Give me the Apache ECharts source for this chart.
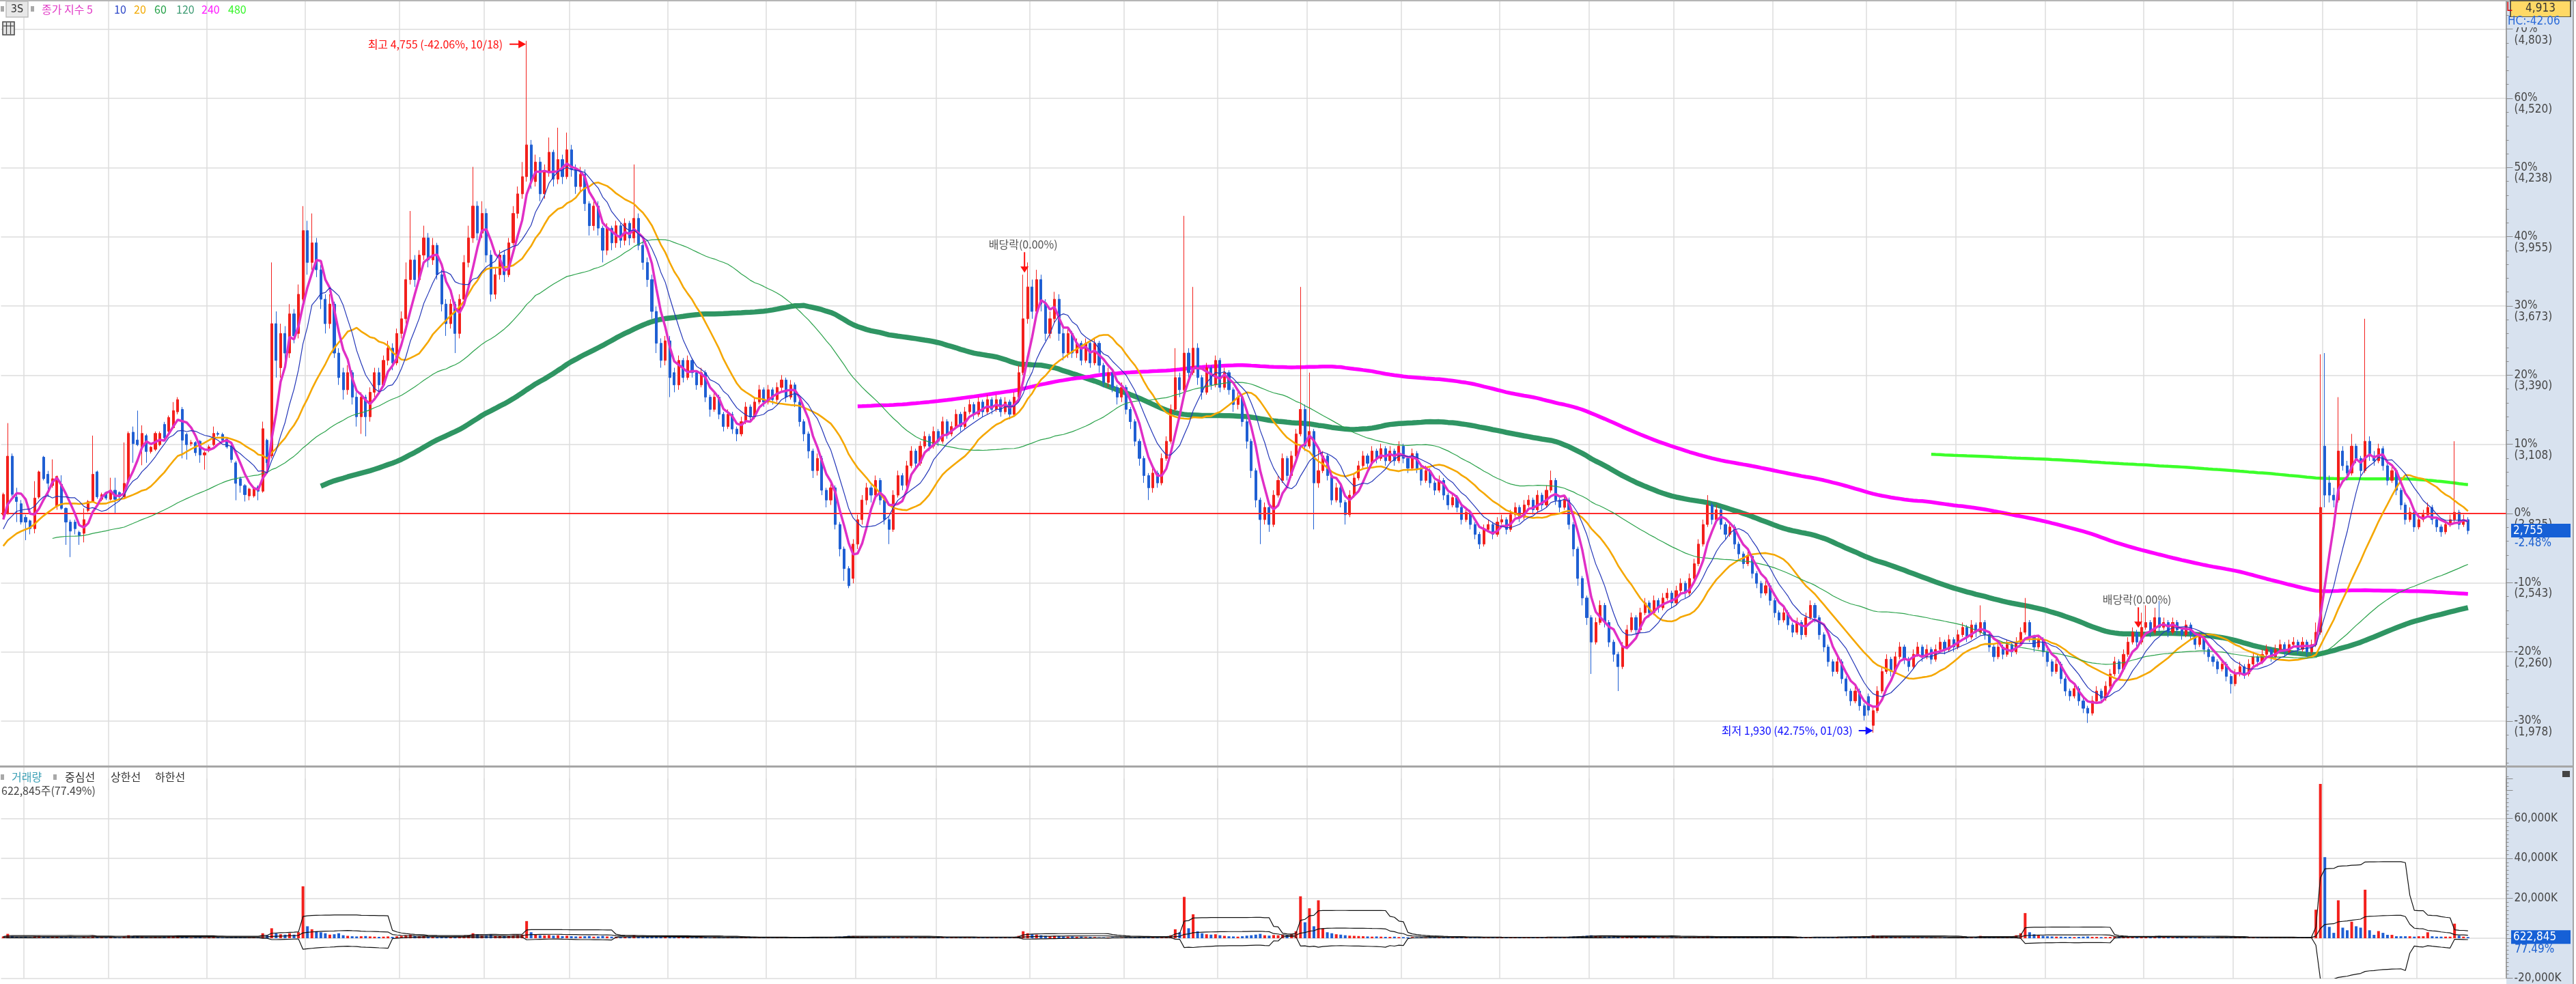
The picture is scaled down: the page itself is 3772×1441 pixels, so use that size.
<!DOCTYPE html>
<html><head><meta charset="utf-8">
<script src="https://cdn.jsdelivr.net/npm/echarts@6/dist/echarts.min.js"></script>
<style>html,body{margin:0;padding:0;background:#fff}#c{width:3772px;height:1441px}</style>
</head><body><div id="c"></div>
<script>
// ---------- DATA ----------
const basePrice = 2825;            // 0% reference price
const topValueText = '4,913';
const highDate = '10/18', lowDate = '01/03';
const exDivIdx = [228, 477];
const priorCloses = [2700,2720,2690,2710,2740,2700,2680,2660,2690,2670,2700,2680,2650,2670,2700,2720,2690,2660,2640,2670,
2690,2660,2640,2620,2650,2680,2660,2640,2620,2600,2620,2590,2610,2640,2620,2600,2630,2650,2670,2700,2720,2690,2740,2760,2750,2780,2770,2800];
const priorVolumes = [600,500,700,800,600,500,400,600,700,500,600,800,700,500,600,900,700,600,800];
// [open, close, low, high]
const candles = [
[2819,2903,2810,2910],[2828,3059,2820,3194],[3059,2903,2895,3070],[2892,2874,2790,2930],[2865,2790,2780,2880],[2809,2790,2716,2820],[2795,2763,2740,2800],[2763,2888,2744,2957],[2892,2995,2885,3000],[3055,2967,2960,3060],
[2985,2948,2893,2999],[2939,2967,2930,3046],[2855,2976,2840,2980],[2944,2846,2840,2981],[2846,2790,2697,2850],[2790,2753,2647,2800],[2790,2763,2740,2800],[2748,2735,2697,2755],[2744,2800,2707,2846],[2837,2874,2830,2880],
[2874,2985,2870,3143],[2995,2893,2885,3000],[2883,2902,2875,2910],[2911,2888,2880,2915],[2883,2920,2878,2971],[2920,2883,2828,2971],[2911,2893,2885,2915],[2893,2948,2890,3115],[2958,3152,2950,3160],[3157,3110,3032,3180],
[3125,3106,3100,3245],[3096,3152,3022,3185],[3143,3078,3032,3150],[3078,3096,3070,3100],[3087,3152,3080,3160],[3106,3152,3100,3160],[3189,3134,3125,3199],[3161,3217,3155,3225],[3175,3245,3170,3280],[3240,3290,3230,3300],
[3250,3124,3050,3260],[3148,3106,3045,3155],[3110,3115,3100,3125],[3115,3073,3060,3120],[3120,3064,3032,3125],[3064,3073,3004,3080],[3083,3097,3075,3105],[3106,3152,3100,3180],[3152,3148,3140,3160],[3148,3124,3115,3155],
[3129,3097,3090,3135],[3101,3045,3032,3110],[3032,2948,2879,3040],[2967,2939,2910,2975],[2939,2902,2874,2945],[2897,2925,2879,2930],[2897,2930,2890,2935],[2934,2916,2879,2940],[2916,3171,2910,3200],[3124,3032,2990,3130],
[3060,3600,3050,3850],[3600,3450,3380,3650],[3420,3560,3380,3600],[3560,3480,3440,3590],[3480,3640,3460,3680],[3640,3550,3520,3660],[3560,3720,3540,3760],[3700,3980,3690,4080],[3980,3850,3800,4020],[3850,3930,3820,4050],
[3930,3820,3790,3950],[3820,3700,3660,3840],[3700,3600,3560,3720],[3600,3680,3580,3720],[3680,3480,3460,3690],[3480,3380,3350,3500],[3400,3330,3290,3420],[3330,3400,3310,3430],[3400,3300,3270,3410],[3300,3220,3180,3320],
[3220,3300,3150,3320],[3300,3220,3140,3310],[3220,3320,3200,3340],[3320,3400,3300,3420],[3400,3350,3320,3420],[3350,3450,3340,3470],[3450,3500,3430,3530],[3500,3440,3410,3520],[3440,3560,3430,3580],[3560,3620,3540,3650],
[3620,3780,3600,3850],[3780,3860,3760,4060],[3860,3780,3750,3880],[3780,3880,3770,3900],[3880,3950,3860,4000],[3950,3860,3830,3970],[3860,3920,3840,3950],[3920,3800,3780,3930],[3800,3680,3650,3820],[3680,3600,3550,3700],
[3600,3680,3580,3700],[3680,3560,3480,3690],[3560,3700,3540,3720],[3700,3850,3690,3880],[3850,3950,3830,4000],[3950,4080,3930,4240],[4080,3970,3940,4100],[3970,4050,3950,4100],[4050,3880,3850,4070],[3880,3720,3690,3900],
[3720,3800,3700,3830],[3800,3880,3780,3900],[3880,3800,3770,3900],[3800,3930,3790,3950],[3930,4050,3920,4080],[4050,4130,4030,4160],[4130,4200,4110,4260],[4200,4330,4180,4755],[4330,4180,4150,4350],[4180,4260,4160,4290],
[4260,4130,4100,4280],[4130,4220,4110,4250],[4220,4300,4200,4360],[4300,4190,4160,4310],[4190,4270,4170,4400],[4270,4200,4170,4290],[4200,4310,4190,4380],[4310,4230,4200,4330],[4230,4160,4130,4250],[4160,4210,4140,4240],
[4210,4090,4060,4230],[4090,4000,3960,4100],[4000,4080,3980,4100],[4080,3990,3960,4100],[3990,3900,3850,4000],[3900,3990,3880,4010],[3990,3930,3900,4000],[3930,4000,3910,4020],[4000,3940,3910,4010],[3940,4010,3920,4030],
[4010,3950,3920,4020],[3950,4030,3930,4250],[4030,3920,3900,4050],[3920,3850,3820,3940],[3850,3780,3750,3870],[3780,3650,3620,3800],[3650,3520,3480,3670],[3520,3450,3420,3540],[3450,3530,3430,3550],[3530,3380,3300,3550],
[3400,3350,3320,3420],[3350,3450,3330,3470],[3450,3380,3360,3460],[3380,3450,3370,3470],[3450,3400,3380,3460],[3400,3350,3330,3410],[3350,3400,3340,3420],[3400,3300,3280,3410],[3300,3250,3220,3310],[3250,3300,3240,3320],
[3300,3230,3210,3310],[3230,3180,3160,3240],[3180,3230,3170,3250],[3230,3170,3150,3240],[3170,3150,3120,3180],[3150,3200,3140,3220],[3200,3260,3190,3280],[3260,3220,3200,3270],[3220,3280,3210,3300],[3280,3330,3270,3350],
[3330,3280,3260,3340],[3280,3330,3270,3350],[3330,3290,3270,3340],[3290,3340,3280,3360],[3340,3370,3320,3390],[3370,3300,3280,3380],[3300,3350,3290,3370],[3350,3280,3260,3360],[3280,3200,3180,3290],[3200,3150,3120,3210],
[3150,3080,3050,3160],[3080,3000,2970,3090],[3000,3050,2980,3070],[3050,2920,2900,3060],[2920,2880,2850,2930],[2880,2930,2860,2950],[2930,2780,2760,2940],[2780,2680,2650,2790],[2680,2600,2550,2690],[2600,2530,2520,2610],
[2560,2700,2540,2720],[2700,2800,2680,2820],[2800,2880,2780,2900],[2880,2930,2860,2950],[2930,2900,2870,2940],[2900,2960,2890,2980],[2960,2880,2860,2970],[2880,2800,2780,2890],[2800,2760,2700,2810],[2760,2900,2750,2920],
[2900,2980,2890,3000],[2980,2940,2920,2990],[2940,3020,2930,3040],[3020,3080,3010,3100],[3080,3030,3010,3090],[3030,3100,3020,3120],[3100,3140,3090,3160],[3140,3100,3080,3150],[3100,3160,3090,3180],[3160,3120,3100,3170],
[3120,3200,3110,3220],[3200,3150,3130,3210],[3150,3180,3140,3200],[3180,3230,3170,3250],[3230,3180,3160,3240],[3180,3240,3170,3260],[3240,3270,3230,3290],[3270,3230,3210,3280],[3230,3280,3220,3300],[3280,3240,3220,3290],
[3240,3290,3230,3310],[3290,3250,3230,3300],[3250,3290,3240,3310],[3290,3240,3220,3300],[3240,3280,3230,3300],[3280,3230,3210,3290],[3230,3300,3220,3320],[3300,3400,3290,3430],[3400,3620,3390,3800],[3620,3750,3600,3850],
[3750,3650,3620,3780],[3650,3780,3630,3820],[3780,3680,3650,3800],[3680,3560,3530,3700],[3560,3620,3540,3650],[3620,3700,3600,3730],[3700,3560,3530,3720],[3560,3480,3450,3580],[3480,3560,3460,3580],[3560,3480,3460,3570],
[3480,3520,3460,3540],[3520,3450,3430,3530],[3450,3520,3440,3540],[3520,3440,3420,3530],[3440,3520,3430,3540],[3520,3430,3400,3530],[3430,3360,3340,3440],[3360,3400,3340,3420],[3400,3340,3320,3410],[3340,3300,3270,3350],
[3300,3340,3280,3360],[3340,3250,3230,3350],[3250,3200,3170,3260],[3200,3120,3100,3210],[3120,3050,3020,3130],[3050,2980,2950,3060],[2980,2930,2880,2990],[2930,2990,2910,3010],[2990,2950,2930,3000],[2950,3050,2940,3070],
[3050,3120,3040,3140],[3120,3250,3110,3270],[3250,3380,3240,3500],[3380,3330,3300,3400],[3330,3480,3320,4040],[3480,3400,3370,3500],[3400,3500,3390,3750],[3500,3380,3350,3520],[3380,3320,3290,3390],[3320,3420,3310,3440],
[3420,3350,3330,3430],[3350,3450,3340,3470],[3450,3340,3320,3460],[3340,3400,3330,3420],[3400,3330,3310,3410],[3330,3270,3240,3340],[3270,3300,3250,3320],[3300,3200,3180,3310],[3200,3120,3090,3210],[3120,3000,2970,3130],
[3000,2880,2850,3010],[2880,2800,2700,2890],[2800,2850,2780,2870],[2850,2780,2750,2860],[2780,2900,2770,2920],[2900,2960,2890,2980],[2960,3050,2950,3070],[3050,2980,2960,3060],[2980,3060,2970,3080],[3060,3150,3050,3170],
[3150,3250,3140,3750],[3250,3100,3080,3270],[3100,3160,3090,3400],[3160,2950,2760,3170],[2950,3000,2930,3100],[3000,3060,2990,3080],[3060,2980,2960,3070],[2980,2880,2860,2990],[2880,2930,2870,2950],[2930,2870,2850,2940],
[2870,2820,2780,2880],[2820,2900,2810,2920],[2900,2970,2890,2990],[2970,3020,2960,3040],[3020,3060,3010,3080],[3060,3030,3010,3070],[3030,3080,3020,3100],[3080,3050,3030,3090],[3050,3090,3040,3110],[3090,3040,3020,3100],
[3040,3080,3030,3100],[3080,3040,3020,3090],[3040,3100,3030,3120],[3100,3050,3030,3110],[3050,3010,2990,3060],[3010,3070,3000,3090],[3070,3010,2990,3080],[3010,2960,2940,3020],[2960,3000,2950,3020],[3000,2950,2930,3010],
[2950,2920,2900,2960],[2920,2960,2910,2980],[2960,2900,2880,2970],[2900,2860,2840,2910],[2860,2890,2850,2910],[2890,2850,2830,2900],[2850,2800,2780,2860],[2800,2830,2790,2850],[2830,2780,2760,2840],[2780,2740,2720,2790],
[2740,2700,2680,2750],[2700,2760,2690,2780],[2760,2780,2750,2800],[2780,2740,2720,2790],[2740,2790,2730,2810],[2790,2800,2780,2820],[2800,2760,2740,2810],[2760,2820,2750,2840],[2820,2850,2810,2870],[2850,2810,2790,2860],
[2810,2860,2800,2880],[2860,2880,2850,2900],[2880,2840,2820,2890],[2840,2900,2830,2920],[2900,2860,2840,2910],[2860,2920,2850,2940],[2920,2960,2910,3000],[2960,2880,2860,2970],[2880,2850,2830,2890],[2850,2880,2840,2900],
[2880,2780,2760,2890],[2780,2680,2650,2790],[2680,2560,2530,2690],[2560,2480,2450,2570],[2480,2400,2370,2490],[2400,2300,2170,2410],[2300,2380,2290,2400],[2380,2450,2370,2470],[2450,2380,2360,2460],[2380,2300,2280,2390],
[2300,2250,2220,2310],[2250,2200,2100,2260],[2200,2280,2190,2300],[2280,2350,2270,2370],[2350,2400,2340,2420],[2400,2350,2330,2410],[2350,2420,2340,2440],[2420,2460,2410,2480],[2460,2420,2400,2470],[2420,2470,2410,2490],
[2470,2440,2420,2480],[2440,2480,2430,2500],[2480,2500,2470,2520],[2500,2460,2440,2510],[2460,2510,2450,2530],[2510,2540,2500,2560],[2540,2500,2480,2550],[2500,2560,2490,2580],[2560,2620,2550,2640],[2620,2700,2610,2720],
[2700,2780,2690,2800],[2780,2860,2770,2900],[2860,2800,2780,2870],[2800,2840,2790,2860],[2840,2780,2760,2850],[2780,2740,2720,2790],[2740,2770,2730,2790],[2770,2700,2680,2780],[2700,2660,2640,2710],[2660,2620,2600,2670],
[2620,2650,2610,2670],[2650,2580,2560,2660],[2580,2540,2520,2590],[2540,2500,2480,2550],[2500,2530,2490,2550],[2530,2470,2450,2540],[2470,2420,2400,2480],[2420,2390,2370,2430],[2390,2420,2380,2440],[2420,2370,2350,2430],
[2370,2340,2320,2380],[2340,2380,2330,2400],[2380,2330,2310,2390],[2330,2400,2320,2420],[2400,2450,2390,2470],[2450,2400,2380,2460],[2400,2330,2310,2410],[2330,2280,2260,2340],[2280,2220,2200,2290],[2220,2180,2160,2230],
[2180,2220,2170,2240],[2220,2150,2130,2230],[2150,2100,2080,2160],[2100,2060,2040,2110],[2060,2100,2050,2120],[2100,2040,2020,2110],[2040,2000,1980,2050],[2078,2022,2000,2090],[1960,2020,1930,2040],[2020,2100,2010,2120],
[2100,2180,2090,2200],[2180,2230,2170,2250],[2230,2180,2160,2240],[2180,2240,2170,2260],[2240,2280,2230,2300],[2280,2230,2210,2290],[2230,2200,2180,2240],[2200,2250,2190,2270],[2250,2280,2240,2300],[2280,2240,2220,2290],
[2240,2270,2230,2290],[2270,2230,2210,2280],[2230,2270,2220,2290],[2270,2300,2260,2320],[2300,2270,2250,2310],[2270,2310,2260,2330],[2310,2280,2260,2320],[2280,2330,2270,2350],[2330,2360,2320,2380],[2360,2320,2300,2370],
[2320,2370,2310,2390],[2370,2340,2320,2380],[2340,2380,2330,2450],[2380,2330,2310,2390],[2330,2280,2260,2340],[2280,2240,2220,2290],[2240,2280,2230,2300],[2280,2250,2230,2290],[2250,2290,2240,2310],[2290,2260,2240,2300],
[2260,2300,2250,2320],[2300,2340,2290,2360],[2340,2380,2330,2480],[2380,2320,2300,2390],[2320,2280,2260,2330],[2280,2310,2270,2330],[2310,2260,2240,2320],[2260,2220,2200,2270],[2220,2180,2160,2230],[2180,2210,2170,2230],
[2210,2150,2130,2220],[2150,2100,2080,2160],[2100,2080,2060,2110],[2080,2110,2070,2130],[2110,2060,2040,2120],[2060,2030,2010,2070],[2030,2010,1970,2040],[2010,2060,2000,2080],[2060,2100,2050,2120],[2100,2070,2050,2110],
[2070,2120,2060,2140],[2120,2170,2110,2190],[2170,2220,2160,2240],[2220,2190,2170,2230],[2190,2250,2180,2270],[2250,2300,2240,2320],[2300,2340,2290,2360],[2340,2300,2280,2350],[2300,2360,2290,2420],[2360,2380,2350,2450],
[2380,2340,2320,2390],[2340,2400,2330,2440],[2400,2360,2340,2468],[2360,2380,2350,2400],[2380,2340,2320,2390],[2340,2380,2330,2400],[2380,2350,2330,2390],[2350,2330,2310,2360],[2330,2370,2320,2390],[2370,2330,2310,2380],
[2330,2290,2270,2340],[2290,2320,2280,2340],[2320,2270,2250,2330],[2270,2240,2220,2280],[2240,2220,2200,2250],[2220,2190,2170,2230],[2190,2210,2180,2230],[2210,2160,2140,2220],[2160,2130,2090,2170],[2130,2170,2120,2190],
[2170,2200,2160,2220],[2200,2170,2150,2210],[2170,2210,2160,2230],[2210,2240,2200,2260],[2240,2220,2200,2250],[2220,2250,2210,2270],[2250,2270,2240,2290],[2270,2240,2220,2280],[2240,2270,2230,2290],[2270,2290,2260,2310],
[2290,2260,2240,2300],[2260,2290,2250,2310],[2290,2300,2280,2320],[2300,2270,2250,2310],[2270,2300,2260,2320],[2300,2260,2240,2310],[2260,2290,2250,2310],[2290,2340,2280,2380],[2340,2850,2330,3475],[3100,2900,2850,3480],
[2950,2900,2870,2980],[2900,2880,2850,2930],[2880,3080,2870,3300],[3080,3020,3000,3100],[3020,2990,2960,3040],[2990,3100,2980,3150],[3100,3050,3030,3110],[3050,3000,2980,3060],[3000,3120,2990,3620],[3120,3060,3040,3140],
[3060,3040,3020,3080],[3040,3090,3030,3110],[3090,3020,3000,3100],[3020,2960,2940,3030],[2960,3000,2950,3020],[3000,2920,2900,3010],[2920,2860,2840,2930],[2860,2800,2780,2870],[2800,2830,2790,2850],[2830,2770,2750,2840],
[2770,2800,2760,2820],[2800,2820,2790,2840],[2820,2850,2810,2870],[2850,2800,2780,2860],[2800,2770,2750,2810],[2770,2750,2730,2780],[2750,2780,2740,2800],[2780,2800,2770,2820],[2800,2830,2790,3120],[2830,2780,2760,2840],
[2780,2800,2770,2820],[2800,2755,2740,2810]
];
// volume, thousands of shares
const volumes = [
900,2200,1100,700,600,800,500,900,1200,800, 600,700,800,700,600,900,500,400,700,600,
1200,800,500,400,600,500,400,900,1500,1000, 1100,800,600,500,700,600,800,900,1100,1200,
1000,700,400,500,600,400,500,700,500,400, 400,600,800,600,500,400,500,400,2500,1500,
5000,2500,2000,1800,2500,1800,3000,26000,6000,4500, 3500,3000,2500,1800,2000,2500,1500,1200,1000,900,
1000,1100,900,800,700,800,900,700,1000,1200, 1500,1800,1000,900,1100,900,800,700,900,800,
700,800,900,1200,1400,2500,1800,1500,1600,1800, 1200,1100,1000,1300,1500,1600,1800,8600,3000,1800,
1500,1400,1600,1300,1500,1100,1300,1000,900,900, 1000,1100,800,900,1200,900,800,700,600,700,
800,1500,1000,900,900,1200,1100,900,700,900, 700,600,500,500,400,500,600,500,400,500,
500,400,400,500,400,300,400,400,300,400, 400,300,300,400,500,400,300,300,400,500,
500,600,500,600,500,500,700,800,1000,1200, 1100,900,800,700,500,500,500,600,700,600,
500,400,500,600,400,400,500,400,400,500, 500,400,400,500,400,500,600,400,400,500,
500,400,400,500,400,400,600,1200,3500,2500, 2000,1800,1500,1200,1000,1200,1100,900,800,900,
700,800,600,700,600,500,500,400,500,400, 400,500,500,600,700,800,900,600,500,700,
900,1500,4500,3000,20700,5000,12000,3500,2500,2000, 1800,2000,1500,1200,1000,900,800,1000,1300,1500,
1800,2200,1500,1300,1600,1500,1800,1400,2000,3500, 21000,8000,15000,6000,19000,5000,3000,2500,2000,1800,
1500,1300,1200,1100,1000,900,800,900,800,700, 700,800,600,600,500,600,500,500,400,500,
500,400,400,500,400,400,500,400,400,500, 500,400,500,400,400,500,400,400,500,400,
400,400,500,400,500,600,700,600,500,500, 700,900,1000,1100,1300,1500,1100,900,800,900,
1000,1200,900,800,700,600,600,500,500,500, 400,500,400,500,400,500,400,500,600,700,
900,1100,800,600,500,500,400,500,400,400, 400,500,400,500,400,400,500,400,400,500,
400,400,500,400,500,600,500,500,600,700, 600,700,800,700,600,800,900,1000,1500,1200,
1000,800,700,600,600,500,500,600,500,400, 400,500,400,400,500,400,400,500,600,500,
500,600,1200,800,600,500,500,600,500,700, 1500,2500,12600,3000,2000,1500,1200,1000,900,800,
800,700,700,600,700,800,900,700,700,600, 600,700,800,600,700,800,900,800,1000,900,
800,1000,1200,700,600,500,500,600,500,500, 400,500,400,500,500,400,400,500,600,500,
400,400,300,400,300,300,400,300,300,400, 300,300,400,300,300,400,300,14300,77300,40600,
5700,2700,19000,5300,4000,8300,6000,5300,24300,4000, 1700,3600,2700,1700,1700,1000,1000,1000,1000,800,
1000,1000,3000,1000,800,800,800,800,7300,1300, 803.8,622.845
];
// first candle of each month (vertical grid lines)
const monthStarts = [5,24,46,68,89,108,127,149,171,191,209,230,251,272,292,313,335,355,374,396,417,437,457,479,499,519,540];

// ---------- STYLE ----------
const maStyles = [
  {p:5,   color:'#e02fc6', w:3.5, z:6},
  {p:10,  color:'#2336b8', w:1.2, z:6},
  {p:20,  color:'#f5a700', w:2.6, z:5},
  {p:60,  color:'#2aa24a', w:1.2, z:5},
  {p:120, color:'#2f9563', w:7.5, z:1},
  {p:240, color:'#ff00ff', w:5.5, z:1},
  {p:480, color:'#3cff2a', w:4.5, z:1}
];
const UP = '#f3201c', DOWN = '#1f5fd3';
const FONT = "'DejaVu Sans Condensed','Noto Sans CJK KR',sans-serif";
const KFONT = "'Noto Sans CJK KR','DejaVu Sans',sans-serif";
const fmt = v => Math.round(v).toLocaleString('en-US');

// main panel geometry: 10% step = 101.33 px, -40% level at y = 1157.3, panel top at y = 0
const MAIN_H = 1157.3, STEP_PX = 101.33;
const yMin = basePrice * 0.6, yStep = basePrice * 0.1;
const yMax = yMin + MAIN_H / STEP_PX * yStep;

// ---------- DERIVED ----------
const N = candles.length;
const cats = Array.from({length: N + 8}, (_, i) => String(i));
const monthSet = new Set(monthStarts);
const allCloses = priorCloses.concat(candles.map(c => c[1]));
function movingAvg(p) {
  const out = [];
  for (let v = 0; v < N; v++) {
    const i = v + priorCloses.length;
    if (i < p - 1) { out.push('-'); continue; }
    let s = 0; for (let k = i - p + 1; k <= i; k++) s += allCloses[k];
    out.push(+(s / p).toFixed(2));
  }
  return out;
}
const allVol = priorVolumes.concat(volumes);
const bbMid = [], bbUp = [], bbLo = [];
for (let v = 0; v < N; v++) {
  const i = v + priorVolumes.length;
  let s = 0; for (let k = i - 19; k <= i; k++) s += allVol[k];
  const m = s / 20;
  let q = 0; for (let k = i - 19; k <= i; k++) q += (allVol[k] - m) ** 2;
  const sd = Math.sqrt(q / 20);
  bbMid.push(+m.toFixed(2)); bbUp.push(+(m + 1.5 * sd).toFixed(2)); bbLo.push(+(m - 1.5 * sd).toFixed(2));
}

const chart = echarts.init(document.getElementById('c'), null, {width:3772, height:1441});
const splitX = {show:true, interval:(i) => monthSet.has(i), lineStyle:{color:'#dcdcdc', width:1.5}};
const series = [{
  type:'candlestick', xAxisIndex:0, yAxisIndex:0, data:candles, barWidth:3.6, z:3,
  itemStyle:{color:UP, color0:DOWN, borderColor:UP, borderColor0:DOWN, borderWidth:1},
  markLine:{silent:true, symbol:['none','none'], label:{show:false}, animation:false,
    lineStyle:{color:'#ff2a2a', width:2, type:'solid'}, data:[{yAxis:basePrice}]}
}];
maStyles.forEach(s => series.push({type:'line', xAxisIndex:0, yAxisIndex:0, data:movingAvg(s.p), showSymbol:false,
  lineStyle:{color:s.color, width:s.w}, z:s.z, silent:true}));
series.push({type:'bar', xAxisIndex:1, yAxisIndex:2, barWidth:4, z:3,
  data:volumes.map((v, i) => ({value:v, itemStyle:{color: candles[i][1] >= candles[i][0] ? UP : DOWN}}))});
[bbMid, bbUp, bbLo].forEach(d => series.push({type:'line', xAxisIndex:1, yAxisIndex:2, data:d, showSymbol:false,
  lineStyle:{color:'#111', width:1.2}, z:4, silent:true}));

const stepOf = v => (v / basePrice - 1) * 10;
const isMajor = v => { const s = stepOf(v); return Math.abs(s - Math.round(s)) < 0.01 && Math.round(s) > -4; };
const pctLabel = v => isMajor(v) ? Math.round(stepOf(v)) * 10 + '%' : '';
const prcLabel = v => isMajor(v) ? '(' + fmt(v) + ')' : '';
const axisCommon = {position:'right', min:yMin, max:yMax, interval:yStep, gridIndex:0};

chart.setOption({
  animation:false, backgroundColor:'#fff',
  grid:[{left:1.5, width:3668, top:0, height:MAIN_H}, {left:1.5, width:3668, top:1140, height:300}],
  xAxis:[
    {type:'category', gridIndex:0, data:cats, boundaryGap:true, axisLine:{show:false}, axisTick:{show:false}, axisLabel:{show:false}, splitLine:splitX},
    {type:'category', gridIndex:1, data:cats, boundaryGap:true, axisLine:{show:false}, axisTick:{show:false}, axisLabel:{show:false}, splitLine:splitX}
  ],
  yAxis:[
    Object.assign({type:'value', axisLine:{show:true, lineStyle:{color:'#8c8c8c', width:1.5}},
      axisTick:{show:true, length:10, lineStyle:{color:'#8c8c8c'}},
      minorTick:{show:true, splitNumber:5, length:4, lineStyle:{color:'#8c8c8c'}},
      splitLine:{show:true, showMinLine:false, showMaxLine:false, lineStyle:{color:'#dcdcdc', width:1.5}},
      axisLabel:{margin:12, color:'#474747', fontSize:17, fontFamily:FONT, formatter:pctLabel, showMaxLabel:false}}, axisCommon),
    Object.assign({type:'value', axisLine:{show:false}, axisTick:{show:false}, splitLine:{show:false},
      axisLabel:{margin:12, color:'#474747', fontSize:17, fontFamily:FONT, verticalAlign:'top', padding:[8,0,0,0], formatter:prcLabel, showMaxLabel:false}}, axisCommon),
    {type:'value', gridIndex:1, position:'right', min:-20000, max:80000, interval:20000,
      axisLine:{show:true, lineStyle:{color:'#8c8c8c', width:1.5}},
      axisTick:{show:true, length:10, lineStyle:{color:'#8c8c8c'}},
      minorTick:{show:true, splitNumber:10, length:4, lineStyle:{color:'#8c8c8c'}},
      splitLine:{show:true, showMaxLine:false, lineStyle:{color:'#dcdcdc', width:1.5}},
      axisLabel:{margin:12, color:'#474747', fontSize:17, fontFamily:FONT,
        formatter:v => (v === 0 || v >= 80000) ? '' : fmt(v) + 'K'}}
  ],
  series
});

// ---------- OVERLAYS ----------
const P = (x, y) => chart.convertToPixel({xAxisIndex:0, yAxisIndex:0}, [x, y]);
const VY = v => chart.convertToPixel({yAxisIndex:2}, v);
const G = [];
const txt = (x, y, text, fill, size, align, font, z) => G.push({type:'text', x, y, z:z || 100, silent:true,
  style:{text, fill, font:(size || 16) + 'px ' + (font || FONT), align:align || 'left', verticalAlign:'middle'}});
const rect = (x, y, w, h, fill, stroke, z) => G.push({type:'rect', silent:true, z:z === undefined ? 90 : z,
  shape:{x, y, width:w, height:h}, style:{fill, stroke:stroke || null, lineWidth:stroke ? 1.5 : 0}});
const line = (x1, y1, x2, y2, stroke, w, z) => G.push({type:'line', silent:true, z:z || 95, shape:{x1, y1, x2, y2}, style:{stroke, lineWidth:w || 1}});
const tri = (pts, fill) => G.push({type:'polygon', silent:true, z:96, shape:{points:pts}, style:{fill}});

// axis panel background and frame
rect(3670, 0, 98, 1441, '#d8e2ef', null, -10);
line(3768, 0, 3768, 1441, '#8c8c8c', 1.5, 60);
rect(0, 0, 3772, 2, '#b5b5b5', null, 60);
rect(0, 1121, 3768, 3, '#a6a6a6', null, 60);

// top-left legend
rect(1, 9, 5, 8, '#a8a8a8', null);
rect(9, 2, 32, 23, '#e8e8e8', '#bdbdbd');
txt(25, 14, '3S', '#333', 16, 'center');
rect(45, 9, 5, 8, '#a8a8a8', null);
const legendItems = [['종가 지수 5', 61, '#e13ac6'], ['10', 167, '#2a45c8'], ['20', 196, '#f2a900'], ['60', 226, '#22a046'],
  ['120', 258, '#3d9b73'], ['240', 295, '#ff1aff'], ['480', 334, '#36f52a']];
legendItems.forEach(([t, x, c]) => txt(x, 14, t, c, 16, 'left', KFONT));
rect(4, 32, 17, 19, '#e4e4e4', '#444');
line(9.5, 33, 9.5, 50, '#444', 1.2); line(15.5, 33, 15.5, 50, '#444', 1.2); line(5, 38, 20, 38, '#444', 1.2);

// volume legend
rect(1, 1134, 5, 8, '#a8a8a8', null);
txt(17, 1138, '거래량', '#3a9fb5', 16, 'left', KFONT);
rect(78, 1134, 5, 8, '#a8a8a8', null);
txt(95, 1138, '중심선', '#333', 16, 'left', KFONT);
txt(162, 1138, '상한선', '#333', 16, 'left', KFONT);
txt(227, 1138, '하한선', '#333', 16, 'left', KFONT);
const lastVol = volumes[N - 1], prevVol = volumes[N - 2];
const volPct = (lastVol / prevVol * 100).toFixed(2);
txt(2, 1158, fmt(lastVol * 1000) + '주(' + volPct + '%)', '#444', 16, 'left', KFONT);

// top-right boxes
txt(3670, 12, 'L', '#e00000', 17);
rect(3676, 1, 88, 24, '#ffd966', '#333');
txt(3720, 13, topValueText, '#333', 17, 'center');
const lastClose = candles[N - 1][1];
const hiIdx = candles.reduce((b, c, i) => c[3] > candles[b][3] ? i : b, 0);
const loIdx = candles.reduce((b, c, i) => c[2] < candles[b][2] ? i : b, 0);
const hi = candles[hiIdx][3], lo = candles[loIdx][2];
rect(3671, 25, 96, 15, '#d8e2ef', null);
txt(3672, 32, 'HC:' + ((lastClose / hi - 1) * 100).toFixed(2), '#2a6ad8', 17);

// last price box
const ly = P(0, lastClose)[1];
rect(3677, ly - 10, 87, 20, '#1660d6', null);
txt(3680, ly, fmt(lastClose), '#fff', 17);
txt(3682, ly + 18, ((lastClose / basePrice - 1) * 100).toFixed(2) + '%', '#1a5fd0', 17);
// last volume box
const vy = VY(lastVol);
rect(3677, vy - 10, 87, 20, '#1660d6', null);
txt(3680, vy, fmt(lastVol * 1000), '#fff', 17);
txt(3682, vy + 18, volPct + '%', '#1a5fd0', 17);
rect(3752, 1129, 11, 9, '#444', null);

// high / low annotations
const [hx, hyRaw] = P(hiIdx, hi); const hy = hyRaw + 5;
txt(hx - 35, hy, '최고 ' + fmt(hi) + ' (' + ((lastClose / hi - 1) * 100).toFixed(2) + '%, ' + highDate + ')', '#ff1010', 16, 'right', KFONT);
line(hx - 25, hy, hx - 11, hy, '#ff1010', 2);
tri([[hx - 12, hy - 6], [hx - 1, hy], [hx - 12, hy + 6]], '#ff1010');
const [lx, lyRaw] = P(loIdx, lo); const lyy = lyRaw - 3;
txt(lx - 30, lyy, '최저 ' + fmt(lo) + ' (' + ((lastClose / lo - 1) * 100).toFixed(2) + '%, ' + lowDate + ')', '#1010ff', 16, 'right', KFONT);
line(lx - 21, lyy, lx - 10, lyy, '#1010ff', 2);
tri([[lx - 11, lyy - 6], [lx, lyy], [lx - 11, lyy + 6]], '#1010ff');
// ex-dividend markers
exDivIdx.forEach(i => {
  const [dx, dyRaw] = P(i, candles[i][3]);
  const tip = dyRaw - 3, ax = dx + 2;
  line(ax, tip - 30, ax, tip - 8, '#ff1010', 2);
  tri([[ax - 6, tip - 9], [ax + 6, tip - 9], [ax, tip]], '#ff1010');
  txt(dx, tip - 41, '배당락(0.00%)', '#555', 16, 'center', KFONT);
});

chart.setOption({graphic:{elements:G}});
</script>
</body></html>
